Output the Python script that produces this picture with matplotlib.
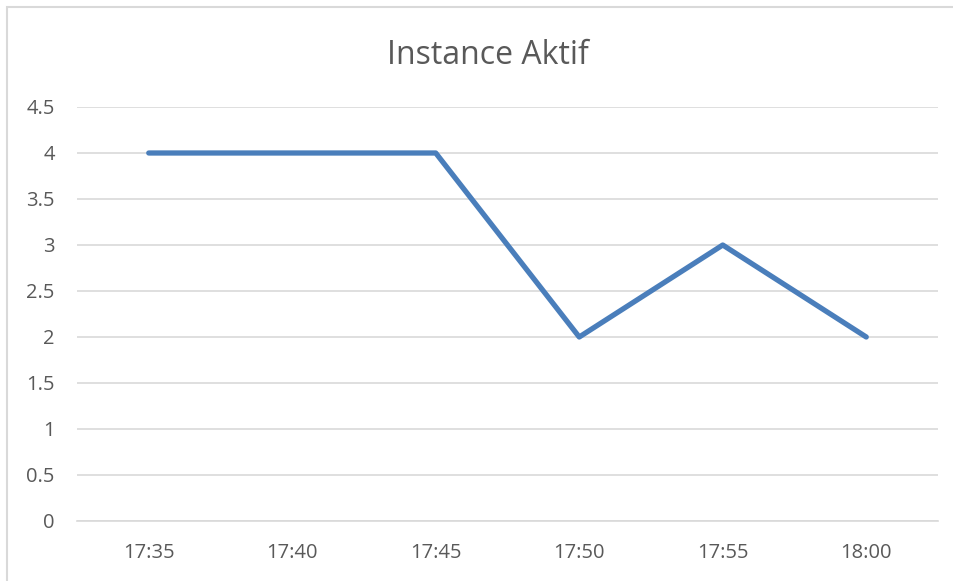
import matplotlib
matplotlib.use('Agg')
import matplotlib.pyplot as plt
from matplotlib.patches import Rectangle

times = ['17:35', '17:40', '17:45', '17:50', '17:55', '18:00']
instances = [4, 4, 4, 2, 3, 2]
yticks = [0, 0.5, 1, 1.5, 2, 2.5, 3, 3.5, 4, 4.5]

plt.rcParams['font.family'] = ['Open Sans', 'DejaVu Sans']

fig = plt.figure(figsize=(9.54, 5.81), dpi=100)
ax = fig.add_axes([77 / 954, 1 - 521 / 581, (938 - 77) / 954, (521 - 107) / 581])

# chart border (only top/left visible in the crop)
fig.patches.append(Rectangle((7 / 954, -0.1), 1.2, 1 - 7 / 581 + 0.1,
                             transform=fig.transFigure, fill=False,
                             edgecolor='#d9d9d9', linewidth=1.5))

x = list(range(len(times)))
ax.plot(x, instances, color='#4a7ebb', linewidth=3.8,
        solid_capstyle='round', solid_joinstyle='round', zorder=3)

ax.set_xlim(-0.5, len(times) - 0.5)
ax.set_ylim(0, 4.5)
ax.set_yticks(yticks)
ax.set_yticklabels([('%g' % v) for v in yticks])
ax.set_xticks(x)
ax.set_xticklabels(times)
ax.grid(axis='y', color='#d9d9d9', linewidth=1.2)
ax.set_axisbelow(True)
for s in ['top', 'right', 'left']:
    ax.spines[s].set_visible(False)
ax.spines['bottom'].set_color('#d9d9d9')
ax.spines['bottom'].set_linewidth(1.2)
ax.tick_params(length=0, labelsize=14.5, colors='#595959')
ax.tick_params(axis='y', pad=16)
ax.tick_params(axis='x', pad=16)
for lbl in ax.get_yticklabels():
    lbl.set_horizontalalignment('right')

fig.text(488 / 954, 1 - 55 / 581, 'Instance Aktif', ha='center', va='center',
         fontsize=23, color='#595959')

fig.savefig('out.png', dpi=100)
